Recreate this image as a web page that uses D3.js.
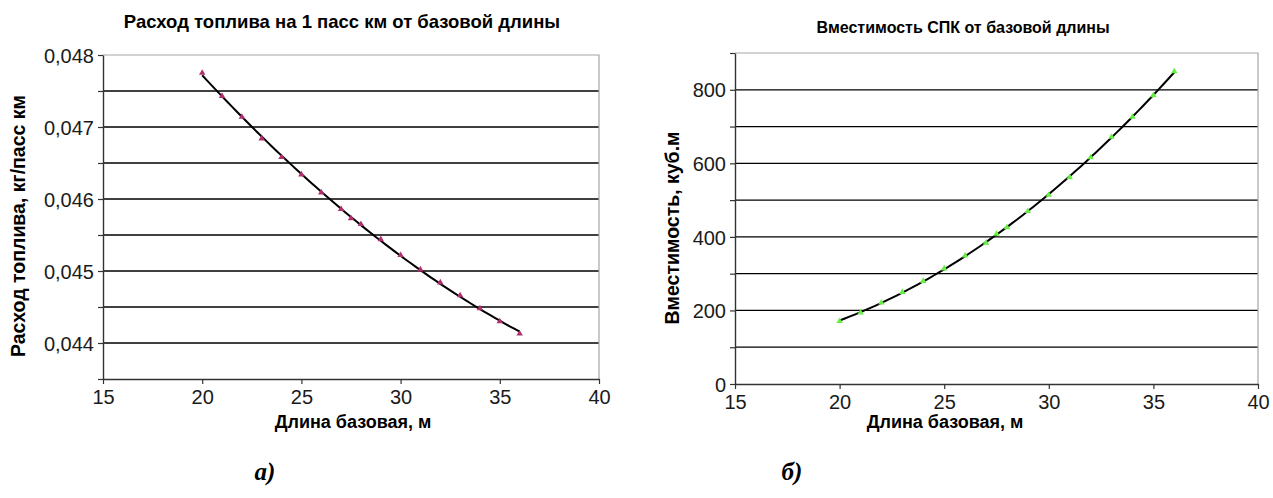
<!DOCTYPE html>
<html><head><meta charset="utf-8">
<script src="https://cdn.jsdelivr.net/npm/d3@7"></script>
<style>body{margin:0;background:#fff}svg{display:block}</style>
</head><body>
<svg id="c" width="1273" height="498"></svg>
<script>
// Data
const lengths = [20,21,22,23,24,25,26,27,27.5,28,29,30,31,32,33,34,35,36];
const fuel = [0.04775,0.04743,0.04714,0.04684,0.04658,0.04634,0.04609,0.04586,0.04573,0.04565,0.04544,0.04522,0.04502,0.04484,0.04466,0.04448,0.04430,0.04413];
const capacity = [171,194,221,250,280,314,349,384,408,426,470,514,562,616,672,726,785,850];
const xTicks = [15,20,25,30,35,40];
const fuelTicks = [0.044,0.045,0.046,0.047,0.048];
const capTicks = [0,200,400,600,800];
const titles = ["Расход топлива на 1 пасс км  от базовой длины","Вместимость СПК от базовой длины"];
const yTitles = ["Расход топлива, кг/пасс км","Вместимость, куб.м"];
const xTitle = "Длина базовая, м";
const captions = ["а)","б)"];

const svg = d3.select("#c");
const SANS = "Liberation Sans, Arial, sans-serif";

function quadFit(xs, ys){
  // least squares trendline y = a + b x + c x^2
  let S=[[0,0,0],[0,0,0],[0,0,0]], T=[0,0,0];
  xs.forEach((x,i)=>{const p=[1,x,x*x];for(let r=0;r<3;r++){T[r]+=p[r]*ys[i];for(let c=0;c<3;c++)S[r][c]+=p[r]*p[c];}});
  const M=S.map((row,i)=>row.concat([T[i]]));
  for(let i=0;i<3;i++){let m=i;for(let k=i+1;k<3;k++)if(Math.abs(M[k][i])>Math.abs(M[m][i]))m=k;[M[i],M[m]]=[M[m],M[i]];
    for(let k=i+1;k<3;k++){const f=M[k][i]/M[i][i];for(let j=i;j<4;j++)M[k][j]-=f*M[i][j];}}
  const s=[0,0,0];for(let i=2;i>=0;i--){let v=M[i][3];for(let j=i+1;j<3;j++)v-=M[i][j]*s[j];s[i]=v/M[i][i];}
  return x=>s[0]+s[1]*x+s[2]*x*x;
}

function chart(o){
  const x=d3.scaleLinear().domain([15,40]).range([o.x0,o.x1]);
  const y=d3.scaleLinear().domain(o.yDom).range([o.yB,o.yT]);
  const g=svg.append("g");
  g.selectAll(".grid").data(o.grid).join("line")
    .attr("x1",o.x0).attr("x2",o.x1).attr("y1",d=>y(d)).attr("y2",d=>y(d))
    .attr("stroke","#000").attr("stroke-width",1.3);
  g.append("path").attr("d",`M${o.x0},${o.yT}H${o.x1}V${o.yB}`).attr("fill","none").attr("stroke","#a6a6a6").attr("stroke-width",1.2);
  const ax=d3.axisBottom(x).tickValues(xTicks).tickSize(5).tickSizeOuter(0).tickFormat(d3.format("d"));
  const gx=g.append("g").attr("transform",`translate(0,${o.yB})`).call(ax);
  const ay=d3.axisLeft(y).tickValues(o.minor).tickSize(5).tickSizeOuter(0).tickFormat(d=>o.labels.some(l=>Math.abs(l-d)<1e-9)?o.fmt(d):"");
  const gy=g.append("g").attr("transform",`translate(${o.x0},0)`).call(ay);
  [gx,gy].forEach(a=>{a.select(".domain").attr("stroke","#333").attr("stroke-width",1.4);
    a.selectAll(".tick line").attr("stroke","#333").attr("stroke-width",1.2);
    a.selectAll("text").attr("font-family",SANS).attr("font-size",20).attr("fill","#1a1a1a");});
  gx.selectAll("text").attr("dy","0.85em");
  gy.selectAll("text").attr("dx","-1px").attr("dy","0.36em");
  const f=quadFit(lengths,o.vals);
  const xs=d3.range(20,36.001,0.25);
  g.append("path").datum(xs).attr("d",d3.line().x(d=>x(d)).y(d=>y(f(d))))
    .attr("fill","none").attr("stroke","#000").attr("stroke-width",2);
  g.selectAll(".m").data(lengths.map((d,i)=>[d,o.vals[i]])).join("path")
    .attr("transform",d=>`translate(${x(d[0])},${y(d[1])})`)
    .attr("d",d3.symbol(d3.symbolTriangle,18)).attr("fill",o.mc);
  g.append("text").attr("x",o.tx).attr("y",o.ty).attr("text-anchor","middle")
    .attr("font-family",SANS).attr("font-weight","bold").attr("font-size",o.tfs).text(o.title);
  g.append("text").attr("transform",`translate(${o.ylx},${o.yly}) rotate(-90)`).attr("text-anchor","middle")
    .attr("font-family",SANS).attr("font-weight","bold").attr("font-size",19.5).text(o.ytitle);
  g.append("text").attr("x",o.xlx).attr("y",428).attr("text-anchor","middle")
    .attr("font-family",SANS).attr("font-weight","bold").attr("font-size",18).text(xTitle);
  g.append("text").attr("x",o.cx).attr("y",480).attr("text-anchor","middle")
    .attr("font-family","Liberation Serif, Times New Roman, serif").attr("font-weight","bold").attr("font-style","italic").attr("font-size",25).text(o.cap);
}

chart({x0:103,x1:599,yT:55,yB:379,yDom:[0.0435,0.048],vals:fuel,
  grid:d3.range(0.044,0.04751,0.0005),minor:d3.range(0.0435,0.04801,0.0005),labels:fuelTicks,
  fmt:d=>d3.format(".3f")(d).replace(".",","),mc:"#b0306e",
  title:titles[0],tx:342,ty:28,tfs:18.5,ytitle:yTitles[0],ylx:25,yly:226,xlx:353,cx:265,cap:captions[0]});
chart({x0:735,x1:1258,yT:53,yB:384,yDom:[0,900],vals:capacity,
  grid:d3.range(100,801,100),minor:d3.range(0,901,100),labels:capTicks,
  fmt:d=>String(d),mc:"#66ee44",
  title:titles[1],tx:963,ty:33,tfs:16,ytitle:yTitles[1],ylx:679,yly:228,xlx:945,cx:792,cap:captions[1]});
</script>
</body></html>
